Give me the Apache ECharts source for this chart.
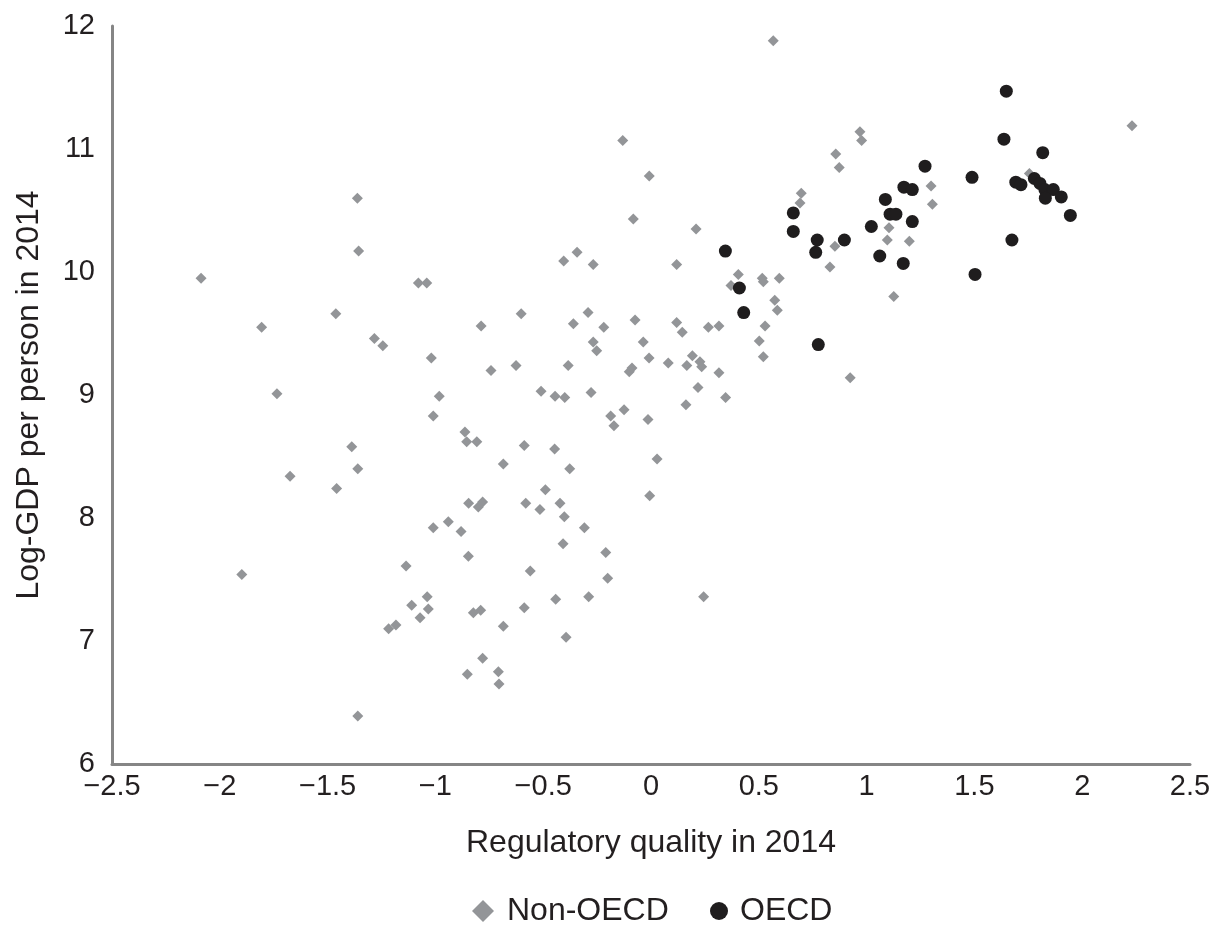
<!DOCTYPE html>
<html>
<head>
<meta charset="utf-8">
<script src="https://cdn.jsdelivr.net/npm/echarts@6/dist/echarts.min.js"></script>
<style>html,body{margin:0;padding:0;background:#fff}#c{width:1218px;height:929px}</style>
</head>
<body>
<div id="c"></div>
<script>
// Non-OECD countries: [regulatory quality, log GDP per person]
const nonOecdX = [-1.362,-1.356,-2.087,-1.079,-1.040,-1.462,-1.806,-1.283,-1.244,-1.019,-1.735,-0.982,-1.010,-0.863,-0.855,-0.808,-1.388,-1.360,-1.674,-1.458,-0.846,-0.940,-1.010,-0.881,-0.847,-1.136,-1.898,-1.038,-1.110,-1.033,-1.071,-1.217,-1.183,-0.824,-0.790,-0.852,-1.360,-0.510,-0.445,-0.400,-0.278,0.218,0.346,0.162,-0.187,-0.125,-0.172,-0.014,-0.588,-0.447,-0.685,-0.377,0.028,-0.490,-0.006,-0.801,-0.781,-0.581,-0.422,-0.515,-0.402,-0.309,-0.408,-0.210,-0.560,-0.201,0.244,-0.289,-0.442,-0.588,-0.685,-0.394,-0.781,-0.708,-0.705,0.567,-0.131,-0.008,0.697,0.691,-0.082,0.209,-0.405,-0.343,-0.268,0.119,0.830,0.405,0.371,0.516,0.521,0.595,0.574,0.586,-0.788,-0.602,-0.360,-0.292,-0.219,-0.074,-0.268,-0.252,-0.036,0.119,0.145,0.266,0.315,0.529,0.502,0.521,-0.742,-0.626,-0.384,-0.101,-0.088,-0.009,0.080,0.166,0.192,0.227,0.235,0.315,2.231,0.969,0.977,0.857,0.873,1.755,1.299,1.305,1.104,1.096,1.198,0.853,1.126,0.924];
const nonOecdY = [10.60,10.17,9.95,9.91,9.91,9.66,9.55,9.46,9.40,9.30,9.01,8.99,8.83,8.70,8.62,8.62,8.58,8.40,8.34,8.24,8.12,7.97,7.92,7.89,7.69,7.61,7.54,7.36,7.29,7.26,7.19,7.10,7.13,7.23,7.25,6.73,6.39,9.03,8.99,8.98,9.02,9.06,8.98,8.92,8.83,8.88,8.75,8.80,8.59,8.56,8.44,8.40,8.48,8.23,8.18,8.09,8.13,8.12,8.12,8.07,8.01,7.92,7.79,7.72,7.57,7.51,7.36,7.36,7.34,7.27,7.12,7.03,6.86,6.75,6.65,11.88,11.07,10.78,10.64,10.56,10.43,10.35,10.09,10.16,10.06,10.06,10.04,9.98,9.89,9.95,9.92,9.95,9.77,9.69,9.56,9.66,9.58,9.67,9.55,9.61,9.43,9.36,9.43,9.59,9.51,9.55,9.56,9.56,9.44,9.31,9.20,9.24,9.24,9.19,9.22,9.30,9.26,9.24,9.32,9.27,9.23,9.18,11.19,11.14,11.07,10.96,10.85,10.80,10.70,10.55,10.36,10.26,10.25,10.21,9.80,9.14];
// OECD countries
const oecdX = [1.648,1.637,1.817,1.271,1.489,1.778,1.692,1.716,1.804,1.827,1.866,1.829,1.903,1.945,1.173,1.212,1.087,1.109,1.136,1.212,1.022,0.897,0.771,0.764,0.660,0.660,1.061,1.170,1.674,1.503,0.345,0.410,0.430,0.776];
const oecdY = [11.47,11.08,10.97,10.86,10.77,10.76,10.73,10.71,10.72,10.67,10.67,10.60,10.61,10.46,10.69,10.67,10.59,10.47,10.47,10.41,10.37,10.26,10.26,10.16,10.48,10.33,10.13,10.07,10.26,9.98,10.17,9.87,9.67,9.41];
const seriesNames = ['Non-OECD','OECD'];
const xTitle = 'Regulatory quality in 2014';
const yTitle = 'Log-GDP per person in 2014';

const pair = (xs, ys) => xs.map((v, i) => [v, ys[i]]);
const font = 'Liberation Sans, Arial, Helvetica, sans-serif';
const txt = '#231f20';
const grey = '#939598';
const black = '#1f1d1e';
const chart = echarts.init(document.getElementById('c'));
chart.setOption({
  animation: false,
  backgroundColor: '#ffffff',
  grid: {left: 112, right: 28, top: 26, bottom: 165, containLabel: false},
  xAxis: {
    type: 'value', min: -2.5, max: 2.5, interval: 0.5,
    axisLine: {show: true, onZero: false, lineStyle: {color: '#858585', width: 3}},
    axisTick: {show: false}, splitLine: {show: false},
    axisLabel: {color: txt, fontSize: 29, fontFamily: font, margin: 8,
      formatter: v => String(v).replace('-', '\u2212')},
    name: xTitle, nameLocation: 'middle', nameGap: 63,
    nameTextStyle: {color: txt, fontSize: 32, fontFamily: font}
  },
  yAxis: {
    type: 'value', min: 6, max: 12, interval: 1,
    axisLine: {show: true, onZero: false, lineStyle: {color: '#858585', width: 3}},
    axisTick: {show: false}, splitLine: {show: false},
    axisLabel: {color: txt, fontSize: 29, fontFamily: font, margin: 17},
    name: yTitle, nameLocation: 'middle', nameGap: 67,
    nameTextStyle: {color: txt, fontSize: 32, fontFamily: font}
  },
  legend: [
    {left: 472, top: 895, padding: 0, itemWidth: 22, itemHeight: 22,
     textStyle: {color: txt, fontSize: 32, fontFamily: font, padding: [0, 0, 0, 8]},
     data: [{name: seriesNames[0], icon: 'diamond'}]},
    {left: 710, top: 895, padding: 0, itemWidth: 18, itemHeight: 18,
     textStyle: {color: txt, fontSize: 32, fontFamily: font, padding: [0, 0, 0, 7]},
     data: [{name: seriesNames[1], icon: 'circle'}]}
  ],
  series: [
    {name: seriesNames[0], type: 'scatter', symbol: 'diamond', symbolSize: 11,
     itemStyle: {color: grey, opacity: 1}, data: pair(nonOecdX, nonOecdY)},
    {name: seriesNames[1], type: 'scatter', symbol: 'circle', symbolSize: 13,
     itemStyle: {color: black, opacity: 1}, data: pair(oecdX, oecdY)}
  ]
});
</script>
</body>
</html>
